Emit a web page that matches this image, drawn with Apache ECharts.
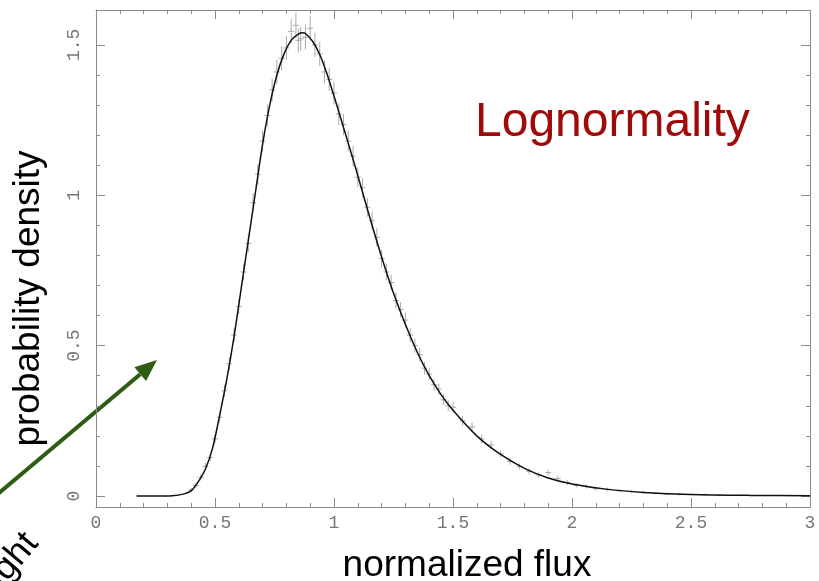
<!DOCTYPE html>
<html>
<head>
<meta charset="utf-8">
<style>
  html, body { margin: 0; padding: 0; background: #fff; }
  #chart { width: 819px; height: 581px; }
</style>
<script src="https://cdn.jsdelivr.net/npm/echarts@6.0.0/dist/echarts.min.js"></script>
</head>
<body>
<div id="chart"></div>
<script>
// fitted lognormal curve
const fitX = [0.17, 0.25, 0.32, 0.37, 0.40, 0.43, 0.46, 0.49, 0.52, 0.55, 0.58, 0.61, 0.64, 0.67, 0.70,
  0.73, 0.76, 0.79, 0.82, 0.85, 0.87, 0.88, 0.91, 0.94, 0.97, 1.00, 1.04, 1.08, 1.12, 1.16, 1.20, 1.25,
  1.30, 1.35, 1.40, 1.45, 1.50, 1.60, 1.70, 1.80, 1.90, 2.00, 2.15, 2.30, 2.50, 2.75, 3.00]
const fitY = [0.000, 0.000, 0.001, 0.007, 0.018, 0.048, 0.090, 0.160, 0.270, 0.390, 0.530, 0.690, 0.850, 1.010, 1.170,
  1.300, 1.400, 1.470, 1.515, 1.536, 1.540, 1.538, 1.512, 1.468, 1.405, 1.330, 1.225, 1.120, 1.010, 0.900, 0.795, 0.675,
  0.570, 0.478, 0.400, 0.337, 0.285, 0.200, 0.138, 0.092, 0.060, 0.040, 0.022, 0.012, 0.005, 0.002, 0.001]

// measured density with error bars (grey)
const obsX = [0.40, 0.42, 0.44, 0.46, 0.48, 0.50, 0.52, 0.54, 0.56, 0.58, 0.60, 0.62, 0.64, 0.66, 0.68, 0.70,
  0.72, 0.74, 0.76, 0.78, 0.80, 0.82, 0.84, 0.85, 0.86, 0.88, 0.90, 0.92, 0.94, 0.96, 0.98, 1.00, 1.02, 1.04,
  1.06, 1.08, 1.10, 1.12, 1.14, 1.16, 1.18, 1.20, 1.22, 1.24, 1.26, 1.28, 1.30, 1.32, 1.34, 1.36, 1.38, 1.40,
  1.42, 1.44, 1.46, 1.48, 1.50, 1.54, 1.58, 1.62, 1.66, 1.70, 1.74, 1.78, 1.82, 1.86, 1.90, 1.94, 1.98, 2.02,
  2.06, 2.10, 2.15, 2.20, 2.25, 2.30, 2.35, 2.40, 2.45, 2.50, 2.56, 2.62, 2.70]
const obsY = [0.020, 0.035, 0.062, 0.098, 0.128, 0.190, 0.262, 0.350, 0.440, 0.535, 0.630, 0.745, 0.840, 0.975, 1.070, 1.180,
  1.265, 1.350, 1.410, 1.455, 1.490, 1.545, 1.565, 1.515, 1.520, 1.525, 1.555, 1.500, 1.470, 1.410, 1.385, 1.340, 1.270, 1.235,
  1.180, 1.130, 1.060, 1.025, 0.960, 0.915, 0.860, 0.790, 0.745, 0.710, 0.650, 0.620, 0.585, 0.535, 0.500, 0.470, 0.425, 0.405,
  0.370, 0.355, 0.320, 0.300, 0.295, 0.250, 0.230, 0.190, 0.170, 0.140, 0.115, 0.098, 0.082, 0.070, 0.078, 0.058, 0.045, 0.035,
  0.032, 0.024, 0.022, 0.017, 0.014, 0.012, 0.009, 0.007, 0.006, 0.005, 0.004, 0.003, 0.002]
const obsErr = [0.006, 0.008, 0.010, 0.012, 0.013, 0.015, 0.017, 0.020, 0.022, 0.024, 0.026, 0.028, 0.030, 0.032, 0.034, 0.036,
  0.037, 0.038, 0.040, 0.040, 0.040, 0.040, 0.042, 0.040, 0.040, 0.040, 0.040, 0.040, 0.040, 0.038, 0.038, 0.037, 0.036, 0.035,
  0.035, 0.034, 0.033, 0.032, 0.031, 0.030, 0.030, 0.029, 0.028, 0.027, 0.026, 0.025, 0.025, 0.024, 0.023, 0.022, 0.021, 0.020,
  0.020, 0.019, 0.018, 0.018, 0.017, 0.016, 0.015, 0.014, 0.013, 0.012, 0.011, 0.010, 0.010, 0.009, 0.009, 0.008, 0.008, 0.007,
  0.007, 0.006, 0.006, 0.005, 0.005, 0.005, 0.004, 0.004, 0.004, 0.003, 0.003, 0.003, 0.002]

// tick labels
const xTicks = [0, 0.5, 1, 1.5, 2, 2.5, 3]
const yTicks = [0, 0.5, 1, 1.5]
const yMinorTicks = [0.1, 0.2, 0.3, 0.4, 0.6, 0.7, 0.8, 0.9, 1.1, 1.2, 1.3, 1.4]

const Y_MIN = -0.0366
const Y_MAX = 1.616
const boxColor = '#8a8a8a'
const tickFont = { fontFamily: 'Liberation Mono', fontSize: 18, color: '#767676' }

function renderErrorBar (params, api) {
  const x = api.value(0)
  const y = api.value(1)
  const e = api.value(2)
  const hi = api.coord([x, y + e])
  const lo = api.coord([x, y - e])
  const mid = api.coord([x, y])
  const style = { stroke: '#a9a9a9', lineWidth: 1 }
  return {
    type: 'group',
    children: [
      { type: 'line', shape: { x1: hi[0], y1: hi[1], x2: lo[0], y2: lo[1] }, style: style },
      { type: 'line', shape: { x1: mid[0] - 3, y1: mid[1], x2: mid[0] + 3, y2: mid[1] }, style: style }
    ]
  }
}

function xAxisOf (position, showLabel) {
  return {
    type: 'value',
    position: position,
    min: 0,
    max: 3,
    interval: 0.5,
    axisLine: { show: true, onZero: false, lineStyle: { color: boxColor, width: 1 } },
    axisTick: { show: true, inside: true, length: 9, lineStyle: { color: boxColor } },
    minorTick: { show: true, splitNumber: 5, length: 4, lineStyle: { color: boxColor } },
    axisLabel: Object.assign({ show: showLabel, margin: 7, customValues: xTicks }, tickFont),
    splitLine: { show: false },
    minorSplitLine: { show: false }
  }
}

function yAxisOf (position, values, len, showLine, showLabel) {
  return {
    type: 'value',
    position: position,
    min: Y_MIN,
    max: Y_MAX,
    axisLine: { show: showLine, onZero: false, lineStyle: { color: boxColor, width: 1 } },
    axisTick: { show: true, inside: true, length: len, customValues: values, lineStyle: { color: boxColor } },
    axisLabel: Object.assign({ show: showLabel, rotate: 90, margin: 13, customValues: values }, tickFont),
    splitLine: { show: false }
  }
}

const xBottom = xAxisOf('bottom', true)
xBottom.name = 'normalized flux'
xBottom.nameLocation = 'middle'
xBottom.nameGap = 40
xBottom.nameTextStyle = { fontFamily: 'Liberation Sans', fontSize: 37, color: '#000', padding: [0, 0, 0, 28] }

const yLeft = yAxisOf('left', yTicks, 9, true, true)
yLeft.name = 'probability density'
yLeft.nameLocation = 'middle'
yLeft.nameRotate = 90
yLeft.nameGap = 49
yLeft.nameTextStyle = { fontFamily: 'Liberation Sans', fontSize: 37, color: '#000', padding: [0, 80, 0, 0] }

// arrow geometry (annotation)
const tip = [157, 360]
const dir = [0.763, -0.646]
const headLen = 22
const headHalf = 9
const base = [tip[0] - headLen * dir[0], tip[1] - headLen * dir[1]]
const rot = 50 * Math.PI / 180

const option = {
  backgroundColor: '#fff',
  animation: false,
  grid: { left: 96, right: 9, top: 10, bottom: 74, containLabel: false, outerBoundsMode: 'none' },
  xAxis: [xBottom, xAxisOf('top', false)],
  yAxis: [
    yLeft,
    yAxisOf('left', yMinorTicks, 4, false, false),
    yAxisOf('right', yTicks, 9, true, false),
    yAxisOf('right', yMinorTicks, 4, false, false)
  ],
  series: [
    {
      type: 'custom',
      name: 'data',
      xAxisIndex: 0,
      yAxisIndex: 0,
      renderItem: renderErrorBar,
      encode: { x: 0, y: 1 },
      data: obsX.map((x, i) => [x, obsY[i], obsErr[i]]),
      z: 1
    },
    {
      type: 'line',
      name: 'lognormal',
      xAxisIndex: 0,
      yAxisIndex: 0,
      data: fitX.map((x, i) => [x, fitY[i]]),
      smooth: 0.3,
      showSymbol: false,
      lineStyle: { color: '#111', width: 1.5 },
      z: 2
    }
  ],
  graphic: [
    {
      type: 'text',
      left: 475,
      top: 99,
      style: { text: 'Lognormality', fontFamily: 'Liberation Sans', fontSize: 48, fill: '#a00a0a' }
    },
    {
      type: 'line',
      shape: { x1: -20, y1: 509, x2: base[0], y2: base[1] },
      style: { stroke: '#2e5c14', lineWidth: 4 }
    },
    {
      type: 'polygon',
      shape: {
        points: [
          tip,
          [base[0] + headHalf * 0.646, base[1] + headHalf * 0.763],
          [base[0] - headHalf * 0.646, base[1] - headHalf * 0.763]
        ]
      },
      style: { fill: '#2e5c14' }
    },
    {
      type: 'text',
      x: 18,
      y: 526,
      rotation: rot,
      style: { text: 'straight', fontFamily: 'Liberation Sans', fontSize: 36, fill: '#000', align: 'right', verticalAlign: 'alphabetic' }
    },
    {
      type: 'text',
      x: 64,
      y: 588,
      rotation: rot,
      style: { text: 'line', fontFamily: 'Liberation Sans', fontSize: 36, fill: '#000', align: 'right', verticalAlign: 'alphabetic' }
    }
  ]
}

const myChart = echarts.init(document.getElementById('chart'))
myChart.setOption(option)
</script>
</body>
</html>
